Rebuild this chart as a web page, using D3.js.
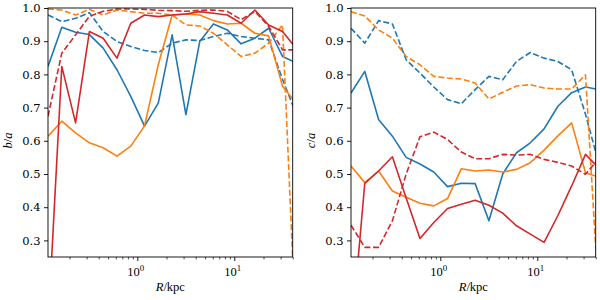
<!DOCTYPE html>
<html>
<head>
<meta charset="utf-8">
<script src="https://cdn.jsdelivr.net/npm/d3@7"></script>
<style>
  body { margin: 0; background: #fff; }
  svg { display: block; }
</style>
</head>
<body>
<div id="chart"></div>
<script>
// radial bins (kpc), shared by all curves
var radius = [0.12, 0.1665, 0.231, 0.3206, 0.4446, 0.617, 0.856, 1.187, 1.648, 2.286,
              3.17, 4.40, 6.10, 8.47, 11.75, 16.3, 22.6, 31.4, 43.5];

// b/a panel
var baBlueSolid   = [0.824, 0.942, 0.927, 0.920, 0.879, 0.814, 0.734, 0.644, 0.714, 0.919, 0.679, 0.899, 0.952, 0.934, 0.892, 0.909, 0.939, 0.854, 0.835];
var baBlueDash    = [0.979, 0.959, 0.969, 0.986, 0.929, 0.899, 0.884, 0.872, 0.866, 0.894, 0.904, 0.902, 0.914, 0.924, 0.914, 0.909, 0.904, 0.785, 0.681];
var baOrangeSolid = [0.614, 0.659, 0.624, 0.594, 0.579, 0.554, 0.584, 0.645, 0.830, 0.979, 0.982, 0.979, 0.962, 0.952, 0.954, 0.924, 0.916, 0.764, 0.713];
var baOrangeDash  = [0.997, 0.994, 0.979, 0.996, 0.979, 0.994, 0.989, 0.984, 0.984, 0.979, 0.949, 0.946, 0.924, 0.889, 0.854, 0.864, 0.894, 0.949, 0.0];
var baRedSolid    = [0.04, 0.824, 0.654, 0.929, 0.909, 0.849, 0.954, 0.979, 0.974, 0.979, 0.982, 0.989, 0.984, 0.979, 0.954, 0.994, 0.949, 0.929, 0.878];
var baRedDash     = [0.674, 0.864, 0.919, 0.975, 0.990, 0.997, 0.997, 0.996, 0.993, 0.992, 0.990, 0.993, 0.994, 0.990, 0.965, 0.990, 0.945, 0.874, 0.874];

// c/a panel
var caBlueSolid   = [0.744, 0.809, 0.664, 0.614, 0.550, 0.530, 0.506, 0.462, 0.472, 0.471, 0.359, 0.500, 0.564, 0.594, 0.636, 0.704, 0.745, 0.762, 0.754];
var caBlueDash    = [0.939, 0.894, 0.962, 0.952, 0.844, 0.804, 0.762, 0.724, 0.712, 0.754, 0.794, 0.784, 0.839, 0.866, 0.849, 0.839, 0.814, 0.680, 0.526];
var caOrangeSolid = [0.524, 0.474, 0.509, 0.449, 0.430, 0.412, 0.404, 0.426, 0.516, 0.509, 0.512, 0.506, 0.514, 0.534, 0.572, 0.615, 0.654, 0.504, 0.490];
var caOrangeDash  = [0.989, 0.976, 0.934, 0.909, 0.854, 0.829, 0.794, 0.789, 0.786, 0.774, 0.726, 0.746, 0.765, 0.769, 0.759, 0.756, 0.756, 0.799, 0.10];
var caRedSolid    = [0.0, 0.472, 0.509, 0.552, 0.428, 0.306, 0.354, 0.396, 0.409, 0.421, 0.406, 0.382, 0.344, 0.319, 0.294, 0.375, 0.464, 0.559, 0.517];
var caRedDash     = [0.346, 0.279, 0.279, 0.359, 0.500, 0.612, 0.626, 0.604, 0.566, 0.546, 0.546, 0.559, 0.557, 0.559, 0.544, 0.535, 0.524, 0.499, 0.548];

var yTicks = [0.3, 0.4, 0.5, 0.6, 0.7, 0.8, 0.9, 1.0];
var xMajor = [1, 10];
var xMinor = [0.2, 0.3, 0.4, 0.5, 0.6, 0.7, 0.8, 0.9, 2, 3, 4, 5, 6, 7, 8, 9, 20, 30, 40];

var blue = "#1f77b4", orange = "#ff7f0e", red = "#d62728";

var panels = [
  { left: 48, ylab: "b", id: "p0", series: [
      [baBlueSolid, blue, false], [baBlueDash, blue, true],
      [baOrangeSolid, orange, false], [baOrangeDash, orange, true],
      [baRedSolid, red, false], [baRedDash, red, true]] },
  { left: 351, ylab: "c", id: "p1", series: [
      [caBlueSolid, blue, false], [caBlueDash, blue, true],
      [caOrangeSolid, orange, false], [caOrangeDash, orange, true],
      [caRedSolid, red, false], [caRedDash, red, true]] }
];

var pw = 244.7, plotTop = 8, plotBot = 257;
var tickFont = "DejaVu Serif, serif";
var mathFont = "Liberation Serif, Times New Roman, serif";

var svg = d3.select("#chart").append("svg")
            .attr("width", 600).attr("height", 300);
var defs = svg.append("defs");

panels.forEach(function(p){
  var x = d3.scaleLog().domain([0.12, 40]).range([p.left, p.left + pw]);
  var y = d3.scaleLinear().domain([0.25, 1.0]).range([plotBot, plotTop]);

  defs.append("clipPath").attr("id", "clip-" + p.id)
      .append("rect").attr("x", p.left).attr("y", plotTop)
      .attr("width", pw).attr("height", plotBot - plotTop);

  var g = svg.append("g");
  var lines = g.append("g").attr("clip-path", "url(#clip-" + p.id + ")");

  var line = d3.line()
      .x(function(d, i){ return x(radius[i]); })
      .y(function(d){ return y(d); });

  p.series.forEach(function(s){
    lines.append("path")
      .attr("d", line(s[0]))
      .attr("fill", "none")
      .attr("stroke", s[1])
      .attr("stroke-width", 1.6)
      .attr("stroke-linejoin", "round")
      .attr("stroke-dasharray", s[2] ? "6,2.6" : null);
  });

  // y axis
  var yAxis = d3.axisLeft(y).tickValues(yTicks).tickFormat(d3.format(".1f"))
      .tickSize(4).tickPadding(3.5);
  var ya = g.append("g").attr("transform", "translate(" + p.left + ",0)").call(yAxis);
  ya.select(".domain").remove();
  ya.selectAll("text").attr("font-family", tickFont).attr("font-size", 11.5).attr("fill", "#000");
  ya.selectAll("line").attr("stroke-width", 0.9);

  // x axis: minor then major
  var xMin = d3.axisBottom(x).tickValues(xMinor).tickFormat("").tickSize(2.4);
  var xm = g.append("g").attr("transform", "translate(0," + plotBot + ")").call(xMin);
  xm.select(".domain").remove();
  xm.selectAll("line").attr("stroke-width", 0.7);

  var xMaj = d3.axisBottom(x).tickValues(xMajor).tickFormat("").tickSize(4);
  var xM = g.append("g").attr("transform", "translate(0," + plotBot + ")").call(xMaj);
  xM.select(".domain").remove();
  xM.selectAll("line").attr("stroke-width", 0.9);

  xMajor.forEach(function(v){
    var t = g.append("text")
      .attr("x", x(v) - 1.5).attr("y", 276)
      .attr("text-anchor", "middle")
      .attr("font-family", mathFont).attr("font-size", 12.5);
    t.append("tspan").text("10");
    t.append("tspan").attr("dy", -5).attr("font-size", 8.8).text(String(Math.round(Math.log10(v))));
  });

  // frame
  g.append("rect").attr("x", p.left).attr("y", plotTop)
    .attr("width", pw).attr("height", plotBot - plotTop)
    .attr("fill", "none").attr("stroke", "#000").attr("stroke-width", 0.9);

  // axis labels
  var cy = (plotTop + plotBot) / 2 + 8;
  var yl = g.append("text")
    .attr("transform", "translate(" + (p.left - 36) + "," + cy + ") rotate(-90)")
    .attr("text-anchor", "middle")
    .attr("font-family", mathFont).attr("font-size", 12.5);
  yl.append("tspan").attr("font-style", "italic").text(p.ylab);
  yl.append("tspan").text("/");
  yl.append("tspan").attr("font-style", "italic").text("a");

  var xl = g.append("text")
    .attr("x", p.left + pw / 2).attr("y", 291)
    .attr("text-anchor", "middle")
    .attr("font-family", mathFont).attr("font-size", 12.5);
  xl.append("tspan").attr("font-style", "italic").text("R");
  xl.append("tspan").text("/kpc");
});
</script>
</body>
</html>
